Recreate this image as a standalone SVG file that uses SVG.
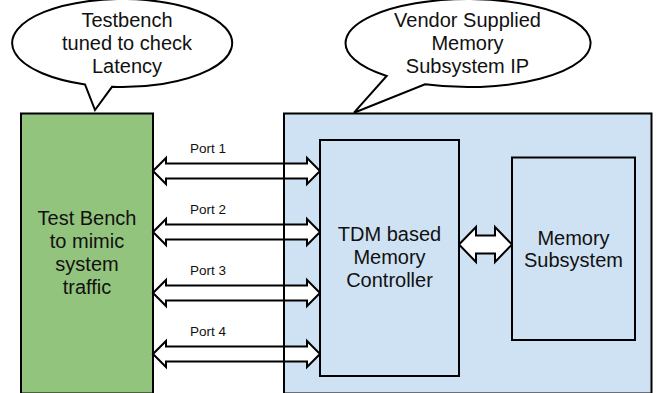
<svg xmlns="http://www.w3.org/2000/svg" width="657" height="393" viewBox="0 0 657 393">
<style>
.t{font-family:"Liberation Sans",Arial,sans-serif;font-size:20px;fill:#111;text-anchor:middle}
.p{font-family:"Liberation Sans",Arial,sans-serif;font-size:13.5px;fill:#111}
.ln{stroke:#000;stroke-width:2;stroke-linejoin:miter}
.arr{fill:#fff;stroke:#000;stroke-width:2;stroke-linejoin:miter}
</style>
<rect width="657" height="393" fill="#fff"/>
<g id="callout-testbench">
<path class="ln" fill="#fff" d="M85,84.4 A110,44 0 1 1 112,86.8 L95,110 Z"/>
<text class="t" x="127" y="27">Testbench</text>
<text class="t" x="127" y="50">tuned to check</text>
<text class="t" x="127" y="73">Latency</text>
</g>
<g id="callout-vendor">
<path class="ln" fill="#fff" d="M386.7,76 A122.5,44 0 1 1 425,84.3 L354,112.7 Z"/>
<text class="t" x="467.5" y="27">Vendor Supplied</text>
<text class="t" x="467.5" y="50">Memory</text>
<text class="t" x="467.5" y="73">Subsystem IP</text>
</g>
<g id="test-bench">
<rect class="ln" x="21" y="113.5" width="132" height="280" fill="#93c47d"/>
<text class="t" x="87" y="225">Test Bench</text>
<text class="t" x="87" y="248">to mimic</text>
<text class="t" x="87" y="271">system</text>
<text class="t" x="87" y="294">traffic</text>
</g>
<g id="vendor-ip">
<rect x="284" y="113.5" width="367.5" height="280" fill="#cfe2f3"/>
</g>
<g id="connectors">
<polygon class="arr" points="153,171 166,158 166,163.5 307,163.5 307,158 320,171 307,184 307,178.5 166,178.5 166,184"/>
<polygon class="arr" points="153,232 166,219 166,224.5 307,224.5 307,219 320,232 307,245 307,239.5 166,239.5 166,245"/>
<polygon class="arr" points="153,293 166,280 166,285.5 307,285.5 307,280 320,293 307,306 307,300.5 166,300.5 166,306"/>
<polygon class="arr" points="153,354 166,341 166,346.5 307,346.5 307,341 320,354 307,367 307,361.5 166,361.5 166,367"/>
<polygon class="arr" points="459,244.5 476,227 476,235.5 495,235.5 495,227 512,244.5 495,262 495,253.5 476,253.5 476,262"/>
<text class="p" x="190" y="153">Port 1</text>
<text class="p" x="190" y="214">Port 2</text>
<text class="p" x="190" y="275">Port 3</text>
<text class="p" x="190" y="336">Port 4</text>
</g>
<g id="vendor-ip-border">
<rect class="ln" x="284" y="113.5" width="367.5" height="280" fill="none"/>
</g>
<g id="tdm-controller">
<rect class="ln" x="320" y="140" width="139" height="236" fill="#cfe2f3"/>
<text class="t" x="389.5" y="240.5">TDM based</text>
<text class="t" x="389.5" y="263.5">Memory</text>
<text class="t" x="389.5" y="286.5">Controller</text>
</g>
<g id="memory-subsystem">
<rect class="ln" x="512" y="157.5" width="123" height="182.5" fill="#cfe2f3"/>
<text class="t" x="573.5" y="244.5">Memory</text>
<text class="t" x="573.5" y="267">Subsystem</text>
</g>
</svg>
